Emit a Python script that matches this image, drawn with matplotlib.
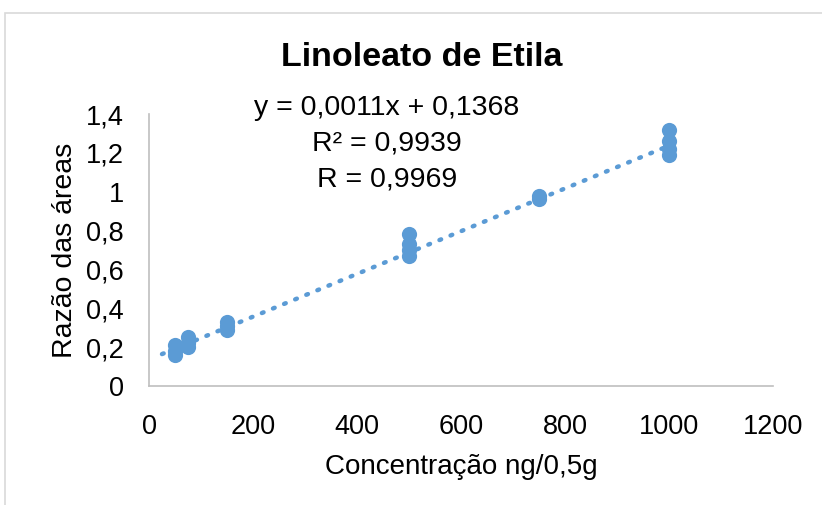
import matplotlib
matplotlib.use("Agg")
import matplotlib.pyplot as plt
from matplotlib.patches import Rectangle
from matplotlib.ticker import FuncFormatter

plt.rcParams["font.family"] = ["Liberation Sans", "DejaVu Sans"]

# Calibration points: concentration (ng/0,5g) vs area ratio
conc = [50, 50, 50, 75, 75, 75, 150, 150, 150,
        500, 500, 500, 500, 750, 750, 1000, 1000, 1000, 1000]
ratio = [0.16, 0.18, 0.21, 0.20, 0.22, 0.25, 0.29, 0.31, 0.33,
         0.67, 0.70, 0.73, 0.78, 0.96, 0.98, 1.19, 1.22, 1.26, 1.32]

slope = 0.0011
intercept = 0.1368
r2 = 0.9939
r = 0.9969
trend_x = [25, 1000]

xticks = [0, 200, 400, 600, 800, 1000, 1200]
yticks = [0, 0.2, 0.4, 0.6, 0.8, 1.0, 1.2, 1.4]

blue = "#5B9BD5"
grey = "#BFBFBF"

fig = plt.figure(figsize=(8.22, 5.05), dpi=100)
ax = fig.add_axes([149 / 822, 1 - 386 / 505, 624 / 822, 272 / 505])

# chart area frame
fig.patches.append(Rectangle((5 / 822, -0.1), 1.2, 1 - 13 / 505 + 0.1,
                             transform=fig.transFigure, fill=False,
                             edgecolor="#D9D9D9", linewidth=1.2))

ax.scatter(conc, ratio, s=120, color=blue, zorder=3, linewidths=0)
ty = [slope * x + intercept for x in trend_x]
ax.plot(trend_x, ty, color=blue, linewidth=3.2, linestyle=(0, (0.4, 2.3)),
        dash_capstyle="round", zorder=2)

ax.set_xlim(0, 1200)
ax.set_ylim(0, 1.4)
ax.set_xticks(xticks)
ax.set_yticks(yticks)


def comma(v, pos):
    s = ("%.1f" % v).rstrip("0").rstrip(".")
    return s.replace(".", ",")


ax.xaxis.set_major_formatter(FuncFormatter(comma))
ax.yaxis.set_major_formatter(FuncFormatter(comma))
ax.tick_params(length=0, labelsize=19.5)
ax.tick_params(axis="x", pad=20)
ax.tick_params(axis="y", pad=18)

for side in ["top", "right"]:
    ax.spines[side].set_visible(False)
for side in ["left", "bottom"]:
    ax.spines[side].set_color(grey)
    ax.spines[side].set_linewidth(1.2)

ax.set_xlabel("Concentração ng/0,5g", fontsize=20, labelpad=10)
ax.set_ylabel("Razão das áreas", fontsize=20.5, labelpad=6)

fig.text(422 / 822, 1 - 57 / 505, "Linoleato de Etila", fontsize=24.5,
         fontweight="bold", ha="center", va="center")

eq = "y = %sx + %s" % (str(slope).replace(".", ","), str(intercept).replace(".", ","))
fig.text(387 / 822, 1 - 108 / 505, eq, fontsize=20.5, ha="center", va="center")
fig.text(387 / 822, 1 - 143 / 505, "R² = " + str(r2).replace(".", ","),
         fontsize=20.5, ha="center", va="center")
fig.text(387 / 822, 1 - 180 / 505, "R = " + str(r).replace(".", ","),
         fontsize=20.5, ha="center", va="center")

fig.savefig("out.png", dpi=100)
